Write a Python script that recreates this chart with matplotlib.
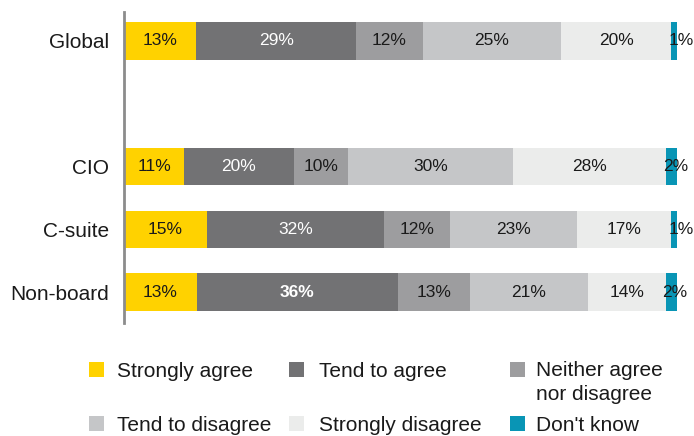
import matplotlib.pyplot as plt
from matplotlib.patches import Rectangle

plt.rcParams['font.family'] = ['Liberation Sans', 'DejaVu Sans']

groups = ['Global', 'CIO', 'C-suite', 'Non-board']
group_pos = [0, 2, 3, 4]

answers = ['Strongly agree', 'Tend to agree', 'Neither agree\nnor disagree',
           'Tend to disagree', 'Strongly disagree', "Don't know"]
colors = ['#ffd200', '#727274', '#9d9d9f', '#c5c6c8', '#ebeceb', '#0995b5']
text_colors = ['#1a1a1a', 'white', '#1a1a1a', '#1a1a1a', '#1a1a1a', '#1a1a1a']

strongly_agree = [13, 11, 15, 13]
tend_agree = [29, 20, 32, 36]
neither = [12, 10, 12, 13]
tend_disagree = [25, 30, 23, 21]
strongly_disagree = [20, 28, 17, 14]
dont_know = [1, 2, 1, 2]
series = [strongly_agree, tend_agree, neither, tend_disagree, strongly_disagree, dont_know]

# (series index, group index) of labels shown in bold
bold_labels = [(1, 3)]

# rounded shares don't always add to 100, so scale each row to its total
totals = [sum(s[j] for s in series) for j in range(len(groups))]

W, H = 694, 436
fig = plt.figure(figsize=(W / 100, H / 100), dpi=100)
ax = fig.add_axes([124 / W, 1 - 323 / H, 553 / W, 311 / H])

left = [0] * len(groups)
for i, vals in enumerate(series):
    widths = [v * 100 / t for v, t in zip(vals, totals)]
    ax.barh(group_pos, widths, left=left, height=0.59, color=colors[i], linewidth=0)
    for j, v in enumerate(vals):
        weight = 'bold' if (i, j) in bold_labels else 'normal'
        if v <= 2:
            ax.text(left[j] - 0.6, group_pos[j], f'{v}%', ha='left', va='center',
                    fontsize=12.5, color=text_colors[i], clip_on=False)
        else:
            ax.text(left[j] + widths[j] / 2, group_pos[j], f'{v}%', ha='center',
                    va='center', fontsize=12.5, color=text_colors[i], fontweight=weight)
    left = [a + b for a, b in zip(left, widths)]

ax.set_xlim(0, 100)
ax.set_ylim(4.494, -0.462)
ax.set_yticks(group_pos)
ax.set_yticklabels(groups, fontsize=15, color='#1a1a1a')
ax.tick_params(axis='y', length=0, pad=11)
ax.set_xticks([])
for s in ['top', 'right', 'bottom']:
    ax.spines[s].set_visible(False)
ax.spines['left'].set_color('#8c8c8c')
ax.spines['left'].set_linewidth(2)

# legend, three per row
marker_x = [89, 289, 510]
text_x = [117, 319, 536]
row_top = [362, 416]
for k, name in enumerate(answers):
    r, c = divmod(k, 3)
    fig.add_artist(Rectangle((marker_x[c] / W, 1 - (row_top[r] + 15) / H), 15 / W, 15 / H,
                             transform=fig.transFigure, color=colors[k], linewidth=0))
    if '\n' in name:
        fig.text(text_x[c] / W, 1 - (row_top[r] - 1) / H, name, fontsize=15,
                 color='#1a1a1a', va='top', ha='left', linespacing=1.32)
    else:
        fig.text(text_x[c] / W, 1 - (row_top[r] + 15) / H, name, fontsize=15,
                 color='#1a1a1a', va='baseline', ha='left')

fig.savefig('out.png', dpi=100)
